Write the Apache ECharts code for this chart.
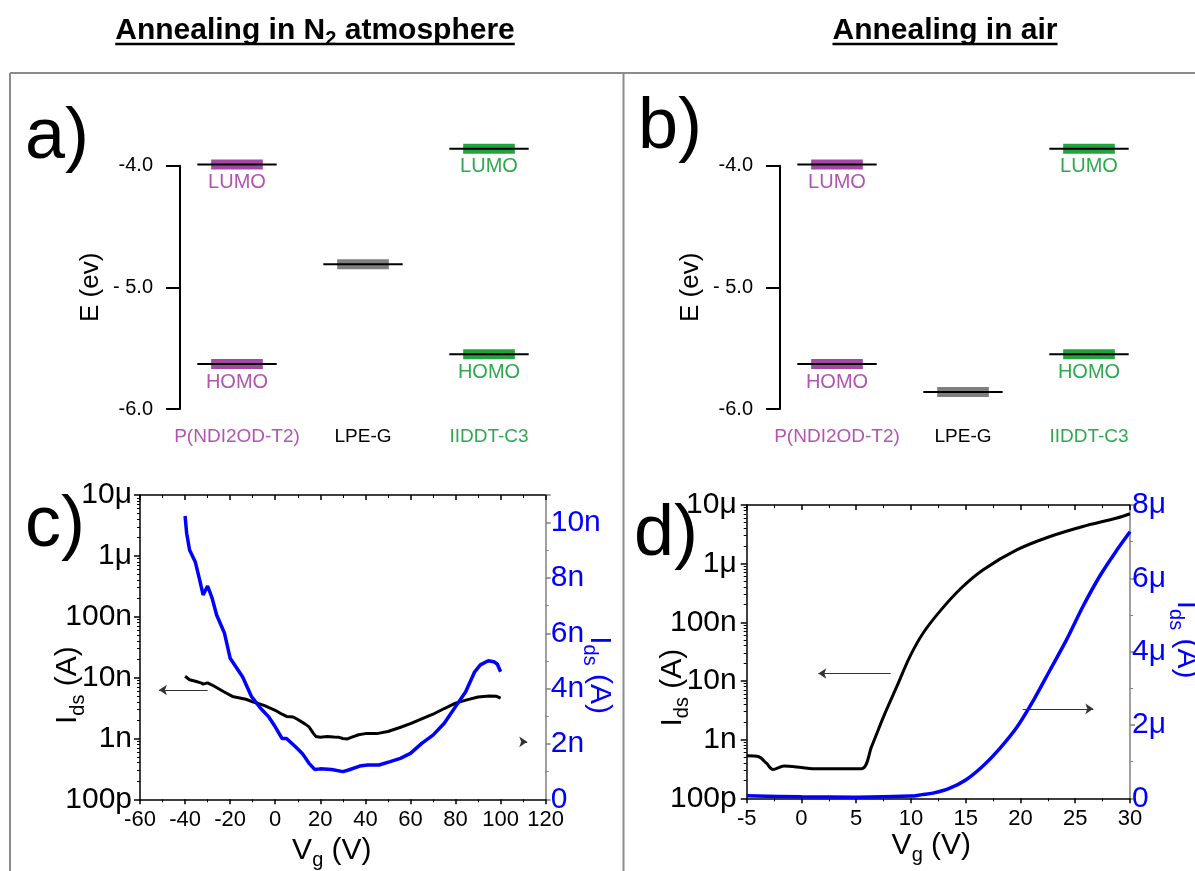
<!DOCTYPE html>
<html><head><meta charset="utf-8">
<script src="https://cdn.jsdelivr.net/npm/echarts@6/dist/echarts.min.js"></script>
<style>html,body{margin:0;padding:0;background:#fff}#chart{width:1195px;height:871px}</style>
</head><body><div id="chart"></div>
<script>
const FONT = '"Liberation Sans", Arial, sans-serif';

// ---------- panels a / b : energy levels ----------
const materials = ['P(NDI2OD-T2)', 'LPE-G', 'IIDDT-C3'];
const energyTickLabels = {'-6': '-6.0', '-5': '- 5.0', '-4': '-4.0'};
const lumoN2 = [-3.99, null, -3.86];
const homoN2 = [-5.63, null, -5.55];
const grapheneN2 = [null, -4.81, null];
const lumoAir = [-3.99, null, -3.86];
const homoAir = [-5.63, null, -5.55];
const grapheneAir = [null, -5.86, null];

// ---------- panel c : annealing in N2 ----------
const vgC_log = [-40,-38,-35,-33,-32,-30,-27,-23,-19,-13,-10,-5,0,3,5,8,10,13,15,17,18,20,23,26,28,30,32,34,37,40,45,50,55,60,65,70,75,80,85,90,95,98,100];
const idsC_log = [10.5e-9,9.2e-9,8.6e-9,8.2e-9,7.8e-9,8.2e-9,7.2e-9,5.9e-9,4.9e-9,4.4e-9,4.0e-9,3.5e-9,2.9e-9,2.5e-9,2.3e-9,2.25e-9,2.05e-9,1.75e-9,1.55e-9,1.2e-9,1.08e-9,1.05e-9,1.08e-9,1.06e-9,1.05e-9,1.0e-9,0.98e-9,1.05e-9,1.15e-9,1.2e-9,1.2e-9,1.3e-9,1.5e-9,1.75e-9,2.1e-9,2.5e-9,3.1e-9,3.8e-9,4.3e-9,4.8e-9,5.0e-9,4.95e-9,4.6e-9];
const vgC_lin = [-40,-39.3,-38,-35.5,-33.5,-32,-30,-28,-26,-22.5,-20,-14.5,-10.5,-6.5,-3,0,3,5,9,12,15,17.5,20,25,30,32.5,37.5,41,46,51,55.5,60,65,70,75,80,84.5,88.5,91,94.5,97,98.5,100];
const idsC_lin_nA = [10.24,9.62,9.01,8.59,7.92,7.39,7.71,7.27,6.66,6.0,5.1,4.43,3.71,3.29,2.99,2.62,2.2,2.2,1.9,1.66,1.3,1.08,1.1,1.08,1.0,1.06,1.2,1.24,1.24,1.36,1.48,1.66,2.02,2.32,2.75,3.35,3.89,4.61,4.86,5.01,4.97,4.89,4.61];

// ---------- panel d : annealing in air ----------
const vgD_log = [-5,-3.9,-3.2,-2.6,-1.6,0,1,5.5,6.4,7.5,8.7,9.9,11.1,12.65,14.5,16.6,19.7,22.7,25.7,28.8,30];
const idsD_log = [5.3e-10,5.1e-10,3.96e-10,3.1e-10,3.56e-10,3.35e-10,3.2e-10,3.2e-10,7.6e-10,2.47e-9,8.0e-9,2.6e-8,6.5e-8,1.55e-7,3.7e-7,7.87e-7,1.73e-6,2.9e-6,4.3e-6,6.0e-6,7.1e-6];
const vgD_lin = [-5,0,5,10,11,12,13.5,15,16.5,18,19.7,21.2,22.7,24.2,25.7,27.3,28.8,30];
const idsD_lin_uA = [0.07,0.04,0.03,0.06,0.1,0.14,0.27,0.5,0.86,1.32,1.95,2.68,3.5,4.32,5.23,6.09,6.77,7.27];

const logTickLabels = ['100p','1n','10n','100n','1μ','10μ'];

// ---------- styles ----------
const levelFill = ['#A548A5', '#7F7F7F', '#22A33F'];
const materialColors = ['#B254B2', '#000000', '#2EA94E'];
const BLUE = '#0000FF';

function pairs(xs, ys){ return xs.map((x,i)=>[x, ys[i]]); }
function levelData(lumo, homo, gr){
  const d = [];
  lumo.forEach((v,i)=>{ if(v!=null) d.push([i,v,0]); });
  homo.forEach((v,i)=>{ if(v!=null) d.push([i,v,1]); });
  gr.forEach((v,i)=>{ if(v!=null) d.push([i,v,2]); });
  return d;
}
function renderLevel(params, api){
  const i = api.value(0), e = api.value(1), kind = api.value(2);
  const p = api.coord([i, e]);
  const band = api.size([1, 0])[0];
  const bw = band * 0.41, lw = band * 0.63;
  const children = [
    {type:'rect', shape:{x:p[0]-bw/2, y:p[1]-5, width:bw, height:10}, style:{fill: levelFill[i]}},
    {type:'line', shape:{x1:p[0]-lw/2, y1:p[1], x2:p[0]+lw/2, y2:p[1]}, style:{stroke:'#000', lineWidth:2}}
  ];
  if (kind < 2) {
    children.push({type:'text', x:p[0], y:p[1]+18, style:{text: kind===0?'LUMO':'HOMO', align:'center', verticalAlign:'middle', fontSize:20, fontFamily:FONT, fill: materialColors[i]}});
  }
  return {type:'group', children};
}

function energyGrid(left){ return {left:left, top:165.7, width:378, height:243.3, outerBoundsMode:'none'}; }
function energyX(gi){
  return {gridIndex:gi, type:'category', data:materials, boundaryGap:true,
    axisLine:{show:false}, axisTick:{show:false}, splitLine:{show:false},
    axisLabel:{interval:0, hideOverlap:false, fontSize:19, fontFamily:FONT, margin:18, color:(v, idx)=>materialColors[idx]}};
}
function energyY(gi){
  return {gridIndex:gi, type:'value', min:-6, max:-4, interval:1, offset:-6,
    axisLine:{show:true, onZero:false, lineStyle:{color:'#000', width:2}},
    axisTick:{show:true, length:14, lineStyle:{color:'#000', width:2}},
    splitLine:{show:false},
    axisLabel:{fontSize:20, fontFamily:FONT, color:'#000', margin:27, formatter:v=>energyTickLabels[String(Math.round(v))]},
    name:'E (ev)', nameLocation:'middle', nameRotate:90, nameGap:76, nameMoveOverlap:false,
    nameTextStyle:{fontSize:26, fontFamily:FONT, color:'#000'}};
}

const subRich = (color, size) => ({
  i:{fontSize:size, lineHeight:40, fontFamily:FONT, color:color},
  s:{fontSize:Math.round(size*0.68), lineHeight:20, verticalAlign:'bottom', fontFamily:FONT, color:color}
});
const IDS = '{i|I}{s|ds}{i| (A)}';
const VG = '{i|V}{s|g}{i| (V)}';

function vxAxis(gi, min, max, interval, top, name, namePad){
  const ax = {gridIndex:gi, type:'value', position: top?'top':'bottom', min, max, interval,
    axisLine:{show:true, onZero:false, lineStyle:{color:'#000', width:1.5}},
    axisTick:{show:true, inside:!!top, length:5, lineStyle:{color:'#000', width:1.5}},
    minorTick:{show:true, splitNumber:2, length:3, lineStyle:{color:'#000', width:1}},
    splitLine:{show:false}, minorSplitLine:{show:false},
    axisLabel: top ? {show:false} : {fontSize:22, fontFamily:FONT, color:'#000', margin:10}};
  if (!top) {
    ax.name = VG; ax.nameLocation = 'middle'; ax.nameGap = name; ax.nameMoveOverlap = false;
    ax.nameTextStyle = {fontSize:30, fontFamily:FONT, color:'#000', rich: subRich('#000', 30), padding: namePad};
  }
  return ax;
}
function logY(gi, labelMargin, nameGap, namePad){
  return {gridIndex:gi, type:'log', logBase:10, min:1e-10, max:1e-5, position:'left',
    axisLine:{show:true, onZero:false, lineStyle:{color:'#000', width:1.5}},
    axisTick:{show:true, length:6, lineStyle:{color:'#000', width:1.5}},
    minorTick:{show:true, splitNumber:9, length:3, lineStyle:{color:'#000', width:1}},
    splitLine:{show:false}, minorSplitLine:{show:false},
    axisLabel:{fontSize:30, fontFamily:FONT, color:'#000', margin:labelMargin,
      formatter:v=>logTickLabels[Math.round(Math.log10(v))+10]},
    name:IDS, nameLocation:'middle', nameRotate:90, nameGap:nameGap, nameMoveOverlap:false,
    nameTextStyle:{fontSize:30, fontFamily:FONT, color:'#000', rich: subRich('#000', 30), padding:namePad}};
}
function linY(gi, max, interval, unit, labelMargin, nameGap, namePad){
  return {gridIndex:gi, type:'value', min:0, max:max, interval:interval, position:'right',
    axisLine:{show:true, onZero:false, lineStyle:{color:'#808080', width:1.5}},
    axisTick:{show:true, length:5, lineStyle:{color:'#808080', width:1.5}},
    minorTick:{show:true, splitNumber:2, length:3, lineStyle:{color:'#808080', width:1}},
    splitLine:{show:false}, minorSplitLine:{show:false},
    axisLabel:{fontSize:30, fontFamily:FONT, color:BLUE, margin:labelMargin, showMaxLabel: (max % interval === 0),
      formatter:v=> v===0 ? '0' : (Math.round(v) + unit)},
    name:IDS, nameLocation:'middle', nameRotate:-90, nameGap:nameGap, nameMoveOverlap:false,
    nameTextStyle:{fontSize:30, fontFamily:FONT, color:BLUE, rich: subRich(BLUE, 30), padding:namePad}};
}

function arrow(from, to){ return [{coord:from}, {coord:to}]; }
const arrowStyle = {silent:true, animation:false, symbol:['none','arrow'], symbolSize:8,
  label:{show:false}, lineStyle:{color:'#333', width:1, type:'solid'}, emphasis:{disabled:true}};

// ---------- titles (measured for underline) ----------
const ctx = document.createElement('canvas').getContext('2d');
function tw(text, font){ ctx.font = font; return ctx.measureText(text).width; }
const TFONT = 'bold 30px "Liberation Sans"';
const SFONT = 'bold 20px "Liberation Sans"';
const TB = 40; // baseline
function titleGraphics(cx, parts){
  const widths = parts.map(p => tw(p.t, p.sub ? SFONT : TFONT));
  const W = widths.reduce((a,b)=>a+b, 0);
  let x = cx - W/2;
  const els = [];
  parts.forEach((p, k) => {
    const size = p.sub ? 20 : 30;
    const base = p.sub ? TB + 6 : TB;
    els.push({type:'text', x:x, y: base - 0.81*size, silent:true,
      style:{text:p.t, font:(p.sub?SFONT:TFONT), fill:'#000', align:'left', verticalAlign:'top'}});
    x += widths[k];
  });
  els.push({type:'line', silent:true, shape:{x1:cx - W/2, y1:TB+4, x2:cx + W/2, y2:TB+4}, style:{stroke:'#000', lineWidth:2.5}});
  return els;
}
function letter(t, x, baseline){
  return {type:'text', x:x, y: baseline - 0.81*72, silent:true,
    style:{text:t, font:'72px "Liberation Sans"', fill:'#000', align:'left', verticalAlign:'top'}};
}
const frame = {stroke:'#8C8C8C', lineWidth:2};

const option = {
  animation:false,
  backgroundColor:'#fff',
  grid:[
    energyGrid(174),
    energyGrid(774),
    {left:140, top:495, width:405.7, height:304.3, outerBoundsMode:'none'},
    {left:746.7, top:505, width:383.3, height:293.3, outerBoundsMode:'none'}
  ],
  xAxis:[
    energyX(0), energyX(1),
    vxAxis(2, -60, 120, 20, false, 31, [0,22,0,0]), vxAxis(2, -60, 120, 20, true),
    vxAxis(3, -5, 30, 5, false, 27, [0,14,0,0]), vxAxis(3, -5, 30, 5, true)
  ],
  yAxis:[
    energyY(0), energyY(1),
    logY(2, 8, 52, [0,76,0,0]), linY(2, 11, 2, 'n', 5, 34, [0,0,0,56]),
    logY(3, 10, 54, [0,72,0,0]), linY(3, 8, 2, 'μ', 2, 36, [0,24,0,0])
  ],
  series:[
    {type:'custom', xAxisIndex:0, yAxisIndex:0, clip:false, silent:true, renderItem:renderLevel, data:levelData(lumoN2, homoN2, grapheneN2)},
    {type:'custom', xAxisIndex:1, yAxisIndex:1, clip:false, silent:true, renderItem:renderLevel, data:levelData(lumoAir, homoAir, grapheneAir)},
    {type:'line', xAxisIndex:2, yAxisIndex:2, showSymbol:false, silent:true, lineStyle:{color:'#000', width:3}, data:pairs(vgC_log, idsC_log),
      markLine:Object.assign({data:[arrow([-30, 6.25e-9], [-51.6, 6.25e-9]), arrow([109, 8.8e-10], [111.8, 8.8e-10])]}, arrowStyle)},
    {type:'line', xAxisIndex:2, yAxisIndex:3, showSymbol:false, silent:true, lineStyle:{color:BLUE, width:3.5}, data:pairs(vgC_lin, idsC_lin_nA)},
    {type:'line', xAxisIndex:4, yAxisIndex:4, showSymbol:false, silent:true, smooth:0.3, lineStyle:{color:'#000', width:3}, data:pairs(vgD_log, idsD_log),
      markLine:Object.assign({data:[arrow([8.15, 1.34e-8], [1.54, 1.34e-8])]}, arrowStyle)},
    {type:'line', xAxisIndex:4, yAxisIndex:5, showSymbol:false, silent:true, smooth:0.3, lineStyle:{color:BLUE, width:3.5}, data:pairs(vgD_lin, idsD_lin_uA),
      markLine:Object.assign({data:[arrow([20.2, 2.44], [26.65, 2.44])]}, arrowStyle)}
  ],
  graphic:[
    {type:'line', silent:true, shape:{x1:10, y1:73, x2:1195, y2:73}, style:frame},
    {type:'line', silent:true, shape:{x1:10, y1:73, x2:10, y2:871}, style:frame},
    {type:'line', silent:true, shape:{x1:623.5, y1:73, x2:623.5, y2:871}, style:frame},
    ...titleGraphics(315, [{t:'Annealing in N'}, {t:'2', sub:true}, {t:' atmosphere'}]),
    ...titleGraphics(945, [{t:'Annealing in air'}]),
    letter('a)', 25, 160), letter('b)', 638, 150), letter('c)', 25, 548), letter('d)', 634, 557)
  ]
};
const chart = echarts.init(document.getElementById('chart'), null, {renderer:'canvas'});
chart.setOption(option);
</script></body></html>
